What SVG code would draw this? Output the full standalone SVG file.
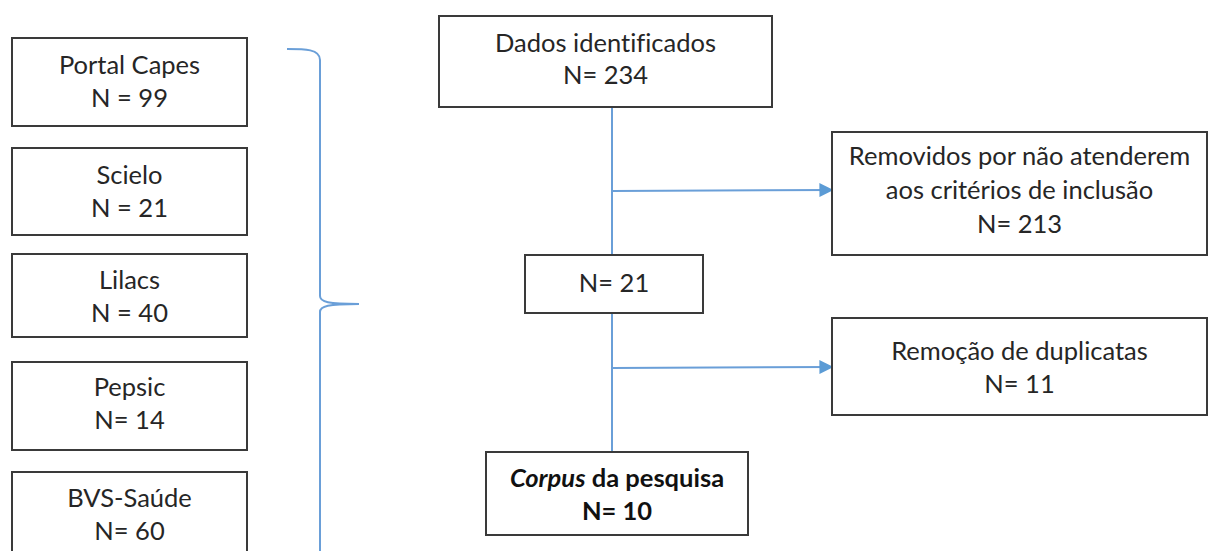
<svg xmlns="http://www.w3.org/2000/svg" width="1212" height="551" viewBox="0 0 1212 551">
<style>
.box{fill:#fff;stroke:#3a3a3a;stroke-width:2}
text{font-family:Lato,"Open Sans","Liberation Sans",sans-serif;font-size:25.5px;fill:#262626;text-anchor:middle;font-variant-ligatures:none}
.b{font-weight:bold;fill:#111}
.c{stroke:#6a9fd8;stroke-width:2;fill:none}
</style>
<defs>
<marker id="ah" viewBox="0 0 10 10" refX="9" refY="5" markerWidth="14" markerHeight="14" markerUnits="userSpaceOnUse" orient="auto">
<path d="M0,0 L10,5 L0,10 z" fill="#5b9bd5"/>
</marker>
</defs>
<rect width="1212" height="551" fill="#fff"/>
<g id="connectors">
<path class="c" d="M287,49 C305,49 320,49 320,60 L320,296 C320,302 328,304 359,304 C328,304 320,306 320,312 L320,551"/>
<line class="c" x1="612" y1="107" x2="612" y2="255"/>
<line class="c" x1="612" y1="191" x2="832" y2="190" marker-end="url(#ah)"/>
<line class="c" x1="612" y1="313" x2="612" y2="452"/>
<line class="c" x1="612" y1="368" x2="832" y2="367" marker-end="url(#ah)"/>
</g>
<g id="portal">
<rect class="box" x="12" y="38" width="235" height="88"/>
<text x="129.5" y="74">Portal Capes</text>
<text x="129.5" y="107">N = 99</text>
</g>
<g id="scielo">
<rect class="box" x="12" y="148" width="235" height="87"/>
<text x="129.5" y="184">Scielo</text>
<text x="129.5" y="217">N = 21</text>
</g>
<g id="lilacs">
<rect class="box" x="12" y="254" width="235" height="83"/>
<text x="129.5" y="289">Lilacs</text>
<text x="129.5" y="322">N = 40</text>
</g>
<g id="pepsic">
<rect class="box" x="12" y="362" width="235" height="88"/>
<text x="129.5" y="396">Pepsic</text>
<text x="129.5" y="429">N= 14</text>
</g>
<g id="bvs">
<rect class="box" x="12" y="472" width="235" height="100"/>
<text x="129.5" y="507">BVS-Saúde</text>
<text x="129.5" y="540">N= 60</text>
</g>
<g id="dados">
<rect class="box" x="439" y="16" width="333" height="91"/>
<text x="605.5" y="52">Dados identificados</text>
<text x="605.5" y="84">N= 234</text>
</g>
<g id="removidos">
<rect class="box" x="832" y="132" width="375" height="123"/>
<text x="1019.5" y="165">Removidos por não atenderem</text>
<text x="1019.5" y="199">aos critérios de inclusão</text>
<text x="1019.5" y="233">N= 213</text>
</g>
<g id="n21">
<rect class="box" x="525" y="255" width="178" height="58"/>
<text x="614" y="292">N= 21</text>
</g>
<g id="remocao">
<rect class="box" x="832" y="318" width="375" height="97"/>
<text x="1019.5" y="360">Remoção de duplicatas</text>
<text x="1019.5" y="393">N= 11</text>
</g>
<g id="corpus">
<rect class="box" x="486" y="452" width="262" height="83"/>
<text class="b" x="617" y="487"><tspan font-style="italic">Corpus</tspan> da pesquisa</text>
<text class="b" x="617" y="520">N= 10</text>
</g>
</svg>
